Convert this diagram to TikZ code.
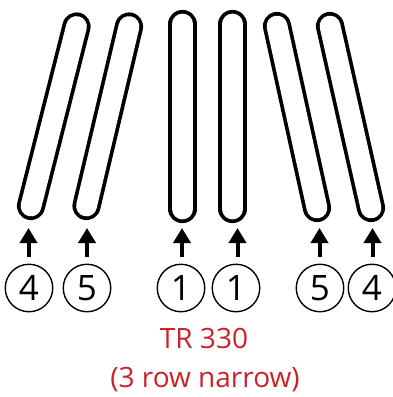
\documentclass[tikz,border=0pt]{standalone}
\usepackage{fontspec}
\setmainfont{Open Sans}
\usetikzlibrary{arrows.meta}
\definecolor{trred}{RGB}{204,34,41}
\tikzset{
  loopst/.style={line width=3.7pt, double=white, double distance=20.8pt, line cap=round},
  numc/.style={circle, draw, line width=1.4pt, minimum size=47.5pt, inner sep=0pt, font=\fontsize{35}{35}\selectfont},
  arr/.style={line width=4pt, -{Triangle[length=15pt,width=17pt]}},
  lbl/.style={text=trred, anchor=base, font=\fontsize{28}{28}\selectfont, inner sep=0pt}
}
\begin{document}
\begin{tikzpicture}[x=1pt,y=-1pt]
\useasboundingbox (0,0) rectangle (392,397);
% loop end points
\coordinate (t1) at (76.5,26.5); \coordinate (b1) at (31,206);
\coordinate (t2) at (129,26.5); \coordinate (b2) at (86.5,206);
\coordinate (t3) at (182.5,24); \coordinate (b3) at (182.5,209);
\coordinate (t4) at (232.5,24); \coordinate (b4) at (232.5,209);
\coordinate (t5) at (277,26); \coordinate (b5) at (317,208);
\coordinate (t6) at (330,26); \coordinate (b6) at (371,208);
\foreach \i in {1,...,6} { \draw[loopst] (t\i) -- (b\i); }
% numbered circles
\node[numc] (c1) at (29,288) {4};
\node[numc] (c2) at (87,288) {5};
\node[numc] (c3) at (181,288) {1};
\node[numc] (c4) at (236,288) {1};
\node[numc] (c5) at (320,288) {5};
\node[numc] (c6) at (372,288) {4};
% arrows
\foreach \i/\x in {1/28.5,2/87,3/182,4/237.5,5/319.5,6/372.5} {
  \coordinate (s\i) at (\x,257);
  \coordinate (e\i) at (\x,228);
  \draw[arr] (s\i) -- (e\i);
}
% label
\node[lbl] (title) at (204,348) {TR 330};
\node[lbl] (sub) at (205,387) {(3 row narrow)};
\end{tikzpicture}
\end{document}
